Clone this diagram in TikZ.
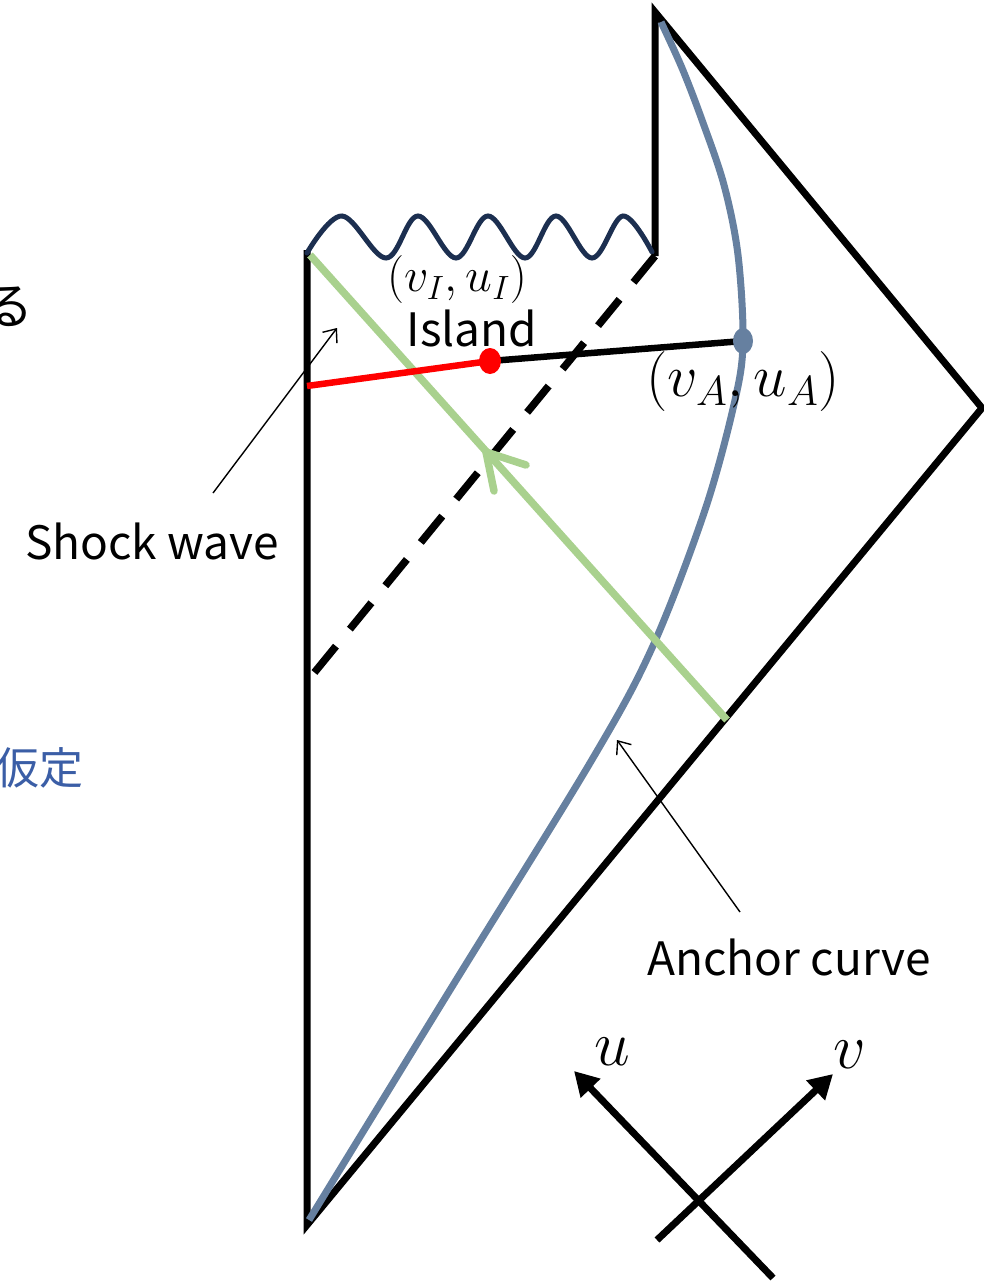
\RequirePackage{fix-cm}
\documentclass[tikz,border=0pt]{standalone}
\usepackage[no-math]{fontspec}
\newfontfamily\jp{Noto Sans CJK JP}
\usetikzlibrary{arrows.meta,shapes.geometric}
\definecolor{wavecol}{HTML}{1C2F50}
\definecolor{anchorcol}{HTML}{6680A0}
\definecolor{lgreen}{HTML}{A9D18E}
\definecolor{jpblue}{HTML}{3B5EA6}
\tikzset{
  frame/.style={line width=7pt, line join=miter},
  thinarrow/.style={line width=1.4pt, -{Straight Barb[length=11pt,width=18pt,line width=1.4pt]}},
  axisarrow/.style={line width=7pt, -{Triangle[length=24pt,width=26pt]}},
  lbl/.style={font=\jp\fontsize{46}{50}\selectfont, inner sep=0pt},
  dotnode/.style={ellipse, minimum width=20pt, minimum height=26pt, inner sep=0pt},
  mathlbl/.style={inner sep=0pt, font=\fontsize{#1}{#1}\selectfont},
}
\begin{document}
\begin{tikzpicture}[x=1pt,y=-1pt]
\useasboundingbox (0,0) rectangle (984,1281);
% key points
\coordinate (BL) at (307,1225);
\coordinate (TL) at (307,250);
\coordinate (W1) at (655,256);
\coordinate (TT) at (655,12);
\coordinate (R) at (982,408);
\coordinate (D2) at (314,673);
\coordinate (G1) at (310,255);
\coordinate (G2) at (727,720);
\coordinate (RL) at (307,386);
\coordinate (GA) at (486,452);
\coordinate (GA1) at (526,465);
\coordinate (GA2) at (494,491);
% frame
\draw[frame] (TL) -- (BL) -- (R) -- (TT) -- (W1);
% singularity
\draw[wavecol, line width=5pt, line cap=round] plot[smooth, tension=0.6] coordinates
 {(307,253) (342,216) (386,258) (418,216) (456,258) (488,216) (525,258) (556,216) (592,258) (623,216) (652,252)};
% shock wave (dashed)
\draw[line width=7.5pt, dash pattern=on 34pt off 22pt] (W1) -- (D2);
% anchor curve
\draw[anchorcol, line width=7pt] plot[smooth, tension=0.55] coordinates
 {(309,1220) (450,990) (590,763) (652,648) (705,510) (735,400) (743,341) (738,255) (724,185) (702,120) (682,68) (661,22)};
% green ray
\draw[lgreen, line width=7.5pt] (G1) -- (G2);
\draw[lgreen, line width=7.5pt, line cap=round] (GA1) -- (GA) -- (GA2);
% island segment
\coordinate (I) at (490,361);
\coordinate (A) at (743,341);
\draw[red, line width=6.5pt] (RL) -- (I);
\draw[line width=6.5pt] (I) -- (A);
\node[dotnode, fill=red, minimum width=22pt] (Idot) at (I) {};
\node[dotnode, fill=anchorcol] (Adot) at (A) {};
% labels
\node[mathlbl=48] (vI) at (457,280) {$(v_I,u_I)$};
\node[lbl] (isl) at (472,328) {Island};
\node[mathlbl=60] (vA) at (743,381) {$(v_A,u_A)$};
\node[lbl] (sw) at (152,541) {Shock wave};
\node[lbl] (ac) at (789,957) {Anchor curve};
\coordinate (swt) at (213,493);
\coordinate (swh) at (337,328);
\coordinate (act) at (740,912);
\coordinate (ach) at (617,740);
\draw[thinarrow] (swt) -- (swh);
\draw[thinarrow] (act) -- (ach);
% axes
\coordinate (u0) at (773,1278);
\coordinate (u1) at (574,1071);
\coordinate (v0) at (657,1240);
\coordinate (v1) at (833,1074);
\draw[axisarrow] (u0) -- (u1);
\draw[axisarrow] (v0) -- (v1);
\node[mathlbl=64] (ul) at (612,1052) {$u$};
\node[mathlbl=64] (vl) at (850,1055) {$v$};
% cropped Japanese text at left edge (cut off in the reference too)
\node[inner sep=0pt, anchor=east, font=\jp\fontsize{50}{54}\selectfont] (ru) at (34,307) {る};
\node[inner sep=0pt, anchor=east, text=jpblue, font=\jp\fontsize{44}{48}\selectfont] (kt) at (84,768) {仮定};
\end{tikzpicture}
\end{document}
